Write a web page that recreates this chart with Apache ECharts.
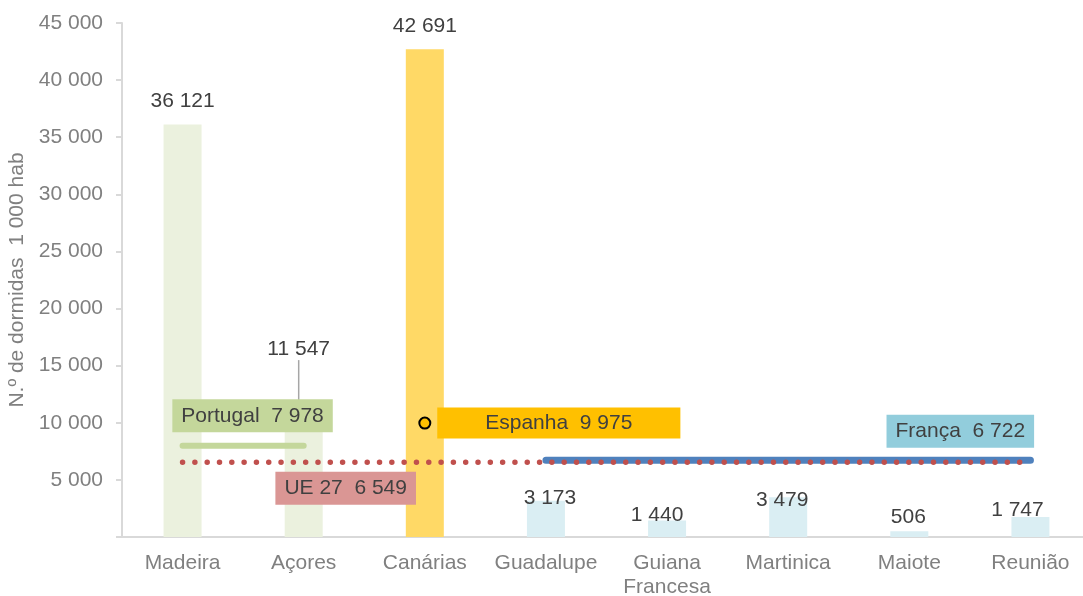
<!DOCTYPE html>
<html>
<head>
<meta charset="utf-8">
<script src="https://cdn.jsdelivr.net/npm/echarts@6/dist/echarts.min.js"></script>
<style>
  html, body { margin: 0; padding: 0; background: #fff; }
  #chart { width: 1083px; height: 596px; }
</style>
</head>
<body>
<div id="chart"></div>
<script>
// regions and overnight stays per 1 000 inhabitants
const regions = ["Madeira", "Açores", "Canárias", "Guadalupe", "Guiana\nFrancesa", "Martinica", "Maiote", "Reunião"];
const stays = [36121, 11547, 42691, 3173, 1440, 3479, 506, 1747];
const barColors = ["#EBF1DE", "#EBF1DE", "#FFD966", "#DAEEF3", "#DAEEF3", "#DAEEF3", "#DAEEF3", "#DAEEF3"];
// label nudges (dx, dy) so labels sit where the original put them
const labelNudge = [[0, 0], [-5, -32], [0, 0], [4, 21], [-10, 18], [-6, 26], [-1, 9], [-13, 17]];

// country averages
const portugal = 7978;
const espanha = 9975;
const franca = 6722;
const ue27 = 6549;

const yTicks = { min: 0, max: 45000, interval: 5000 };

const font = "Liberation Sans, Arial, sans-serif";
const fmt = v => String(v).replace(/\B(?=(\d{3})+(?!\d))/g, " ");

const chart = echarts.init(document.getElementById("chart"), null, { renderer: "canvas" });

const boxLabel = (text, bg, offset, padding) => ({
  show: true,
  position: "inside",
  formatter: text,
  offset: offset,
  backgroundColor: bg,
  padding: padding || [5, 9],
  color: "#404040",
  fontFamily: font,
  fontSize: 21,
  lineHeight: 23
});

const portugalData = regions.map((r, i) => (i <= 1 ? portugal : null));
const francaData = regions.map((r, i) => (i >= 3 ? franca : null));
const ueData = regions.map(() => ue27);
const espanhaData = regions.map((r, i) => (i === 2 ? espanha : null));

chart.setOption({
  animation: false,
  grid: { left: 122, top: 23, bottom: 59, width: 969, outerBoundsMode: "none", containLabel: false },
  xAxis: {
    type: "category",
    data: regions,
    axisLine: { lineStyle: { color: "#D9D9D9", width: 2 } },
    axisTick: { show: false },
    axisLabel: { interval: 0, color: "#808080", fontFamily: font, fontSize: 21, lineHeight: 24, margin: 14 }
  },
  yAxis: {
    type: "value",
    min: yTicks.min,
    max: yTicks.max,
    interval: yTicks.interval,
    name: "N.º de dormidas  1 000 hab",
    nameLocation: "middle",
    nameGap: 91,
    nameTextStyle: { color: "#808080", fontFamily: font, fontSize: 21 },
    axisLine: { show: true, lineStyle: { color: "#D9D9D9", width: 2 } },
    axisTick: { show: true, length: 6, lineStyle: { color: "#D9D9D9", width: 2 } },
    splitLine: { show: false },
    axisLabel: {
      color: "#808080",
      fontFamily: font,
      fontSize: 21,
      margin: 19,
      formatter: v => (v === 0 ? "" : fmt(v))
    }
  },
  series: [
    {
      type: "bar",
      barWidth: 38,
      z: 1,
      data: stays.map((v, i) => ({
        value: v,
        itemStyle: { color: barColors[i] },
        labelLine: { show: i === 1, lineStyle: { color: "#A6A6A6", width: 1.5 } }
      })),
      label: {
        show: true,
        position: "top",
        distance: 13,
        color: "#404040",
        fontFamily: font,
        fontSize: 21,
        formatter: p => fmt(p.value)
      },
      labelLayout: p => ({ dx: labelNudge[p.dataIndex][0], dy: labelNudge[p.dataIndex][1] })
    },
    {
      name: "França",
      type: "line",
      z: 3,
      data: francaData.map((v, i) => (i === 6 ? { value: v, label: boxLabel("França  6 722", "#92CDDC", [51, -29]) } : v)),
      symbol: "circle",
      symbolSize: 0,
      lineStyle: { color: "#4F81BD", width: 7, cap: "round" }
    },
    {
      name: "UE 27",
      type: "line",
      z: 4,
      data: ueData.map((v, i) => (i === 1 ? { value: v, label: boxLabel("UE 27  6 549", "#DA9694", [42, 26]) } : v)),
      symbol: "circle",
      symbolSize: 0,
      lineStyle: { color: "#C0504D", width: 5.5, type: [0.01, 12.3], cap: "round" }
    },
    {
      name: "Portugal",
      type: "line",
      z: 5,
      data: portugalData.map((v, i) => (i === 0 ? { value: v, label: boxLabel("Portugal  7 978", "#C4D79B", [70, -30]) } : v)),
      symbol: "circle",
      symbolSize: 0,
      lineStyle: { color: "#C4D79B", width: 6, cap: "round" }
    },
    {
      name: "Espanha",
      type: "scatter",
      z: 6,
      data: espanhaData.map(v => (v === null ? null : { value: v, label: boxLabel("Espanha  9 975", "#FFC000", [134, 0], [4, 48]) })),
      symbol: "circle",
      symbolSize: 11,
      itemStyle: { color: "#FFC000", borderColor: "#000", borderWidth: 2, opacity: 1 }
    }
  ]
});
</script>
</body>
</html>
